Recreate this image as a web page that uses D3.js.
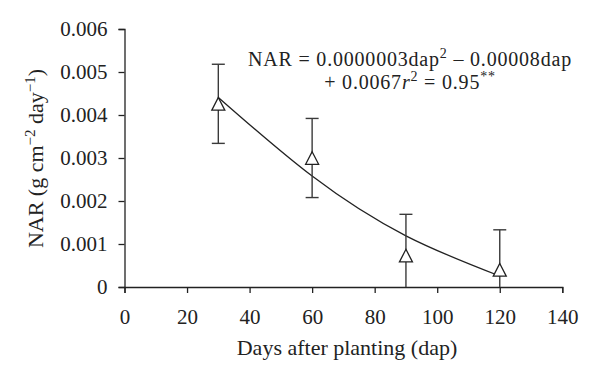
<!DOCTYPE html>
<html>
<head>
<meta charset="utf-8">
<script src="https://cdn.jsdelivr.net/npm/d3@7"></script>
<style>
  body { margin: 0; background: #fff; }
  text { font-family: "Liberation Serif", "DejaVu Serif", serif; fill: #222; }
</style>
</head>
<body>
<script>
// values
const dap = [30, 60, 90, 120];
const nar = [0.00426, 0.0030, 0.00073, 0.0004];
const err = [0.00092, 0.00092, 0.00096, 0.00093];
// fitted curve
const fitDap = [30, 60, 90, 120];
const fitNar = [0.00441, 0.00258, 0.00119, 0.000256];
const xTicks = [0, 20, 40, 60, 80, 100, 120, 140];
const yTicks = [0, 0.001, 0.002, 0.003, 0.004, 0.005, 0.006];

const width = 600, height = 387;
const svg = d3.select("body").append("svg")
    .attr("width", width)
    .attr("height", height);

const x = d3.scaleLinear().domain([0, 140]).range([124.5, 562.3]);
const y = d3.scaleLinear().domain([0, 0.006]).range([287, 29]);

// axes
const xAxis = svg.append("g")
    .attr("transform", `translate(0,${y(0)})`)
    .call(d3.axisBottom(x).tickValues(xTicks).tickSize(6).tickPadding(16).tickFormat(d3.format("d")));
const yAxis = svg.append("g")
    .attr("transform", `translate(${x(0)},0)`)
    .call(d3.axisLeft(y).tickValues(yTicks).tickSize(6).tickPadding(11)
        .tickFormat(d => d === 0 ? "0" : d3.format(".3f")(d)));
[xAxis, yAxis].forEach(g => {
    g.select(".domain").attr("stroke", "#222").attr("stroke-width", 1.3);
    g.selectAll(".tick line").attr("stroke", "#222").attr("stroke-width", 1.3);
    g.selectAll(".tick text").attr("font-size", 21).attr("fill", "#222")
        .style("font-family", '"Liberation Serif", serif');
});
xAxis.selectAll(".tick text").attr("dy", "0.71em");

// fitted curve
const line = d3.line()
    .x((d, i) => x(fitDap[i]))
    .y(d => y(d))
    .curve(d3.curveNatural);
svg.append("path")
    .datum(fitNar)
    .attr("d", line)
    .attr("fill", "none")
    .attr("stroke", "#222")
    .attr("stroke-width", 1.3);

// error bars
const cap = 6.5;
const eb = svg.append("g").attr("stroke", "#3a3a3a").attr("stroke-width", 1.4);
dap.forEach((d, i) => {
    const hi = y(nar[i] + err[i]);
    const lo = y(Math.max(0, nar[i] - err[i]));
    eb.append("line").attr("x1", x(d)).attr("x2", x(d)).attr("y1", hi).attr("y2", lo);
    eb.append("line").attr("x1", x(d) - cap).attr("x2", x(d) + cap).attr("y1", hi).attr("y2", hi);
    if (nar[i] - err[i] > 0)
        eb.append("line").attr("x1", x(d) - cap).attr("x2", x(d) + cap).attr("y1", lo).attr("y2", lo);
});

// triangle markers, centred on their box like the spreadsheet ones
const tw = 13, th = 12.6;
const tri = `M0,${-th / 2}L${tw / 2},${th / 2}L${-tw / 2},${th / 2}Z`;
svg.append("g").selectAll("path")
    .data(dap)
    .join("path")
    .attr("d", tri)
    .attr("transform", (d, i) => `translate(${x(d)},${y(nar[i])})`)
    .attr("fill", "#fff")
    .attr("stroke", "#222")
    .attr("stroke-width", 1.3);

// axis titles
svg.append("text")
    .attr("x", 347).attr("y", 355)
    .attr("text-anchor", "middle")
    .attr("font-size", 22)
    .text("Days after planting (dap)");

const yt = svg.append("text")
    .attr("transform", `translate(43,158.5) rotate(-90)`)
    .attr("text-anchor", "middle")
    .attr("font-size", 22);
yt.append("tspan").text("NAR (g cm");
yt.append("tspan").attr("font-size", 15).attr("dy", -8).text("\u22122");
yt.append("tspan").attr("dy", 8).text(" day");
yt.append("tspan").attr("font-size", 15).attr("dy", -8).text("\u22121");
yt.append("tspan").attr("dy", 8).text(")");

// equation
const eq1 = svg.append("text")
    .attr("x", 410).attr("y", 66)
    .attr("text-anchor", "middle")
    .attr("font-size", 20)
    .attr("letter-spacing", 0.8);
eq1.append("tspan").text("NAR = 0.0000003dap");
eq1.append("tspan").attr("font-size", 14).attr("dy", -8).text("2");
eq1.append("tspan").attr("dy", 8).text(" \u2013 0.00008dap");

const eq2 = svg.append("text")
    .attr("x", 410).attr("y", 89)
    .attr("text-anchor", "middle")
    .attr("font-size", 20)
    .attr("letter-spacing", 0.8);
eq2.append("tspan").text("+ 0.0067");
eq2.append("tspan").attr("font-style", "italic").text("r");
eq2.append("tspan").attr("font-size", 14).attr("dy", -8).text("2");
eq2.append("tspan").attr("dy", 8).text(" = 0.95");
eq2.append("tspan").attr("font-size", 14).attr("dy", -8).text("**");
</script>
</body>
</html>
